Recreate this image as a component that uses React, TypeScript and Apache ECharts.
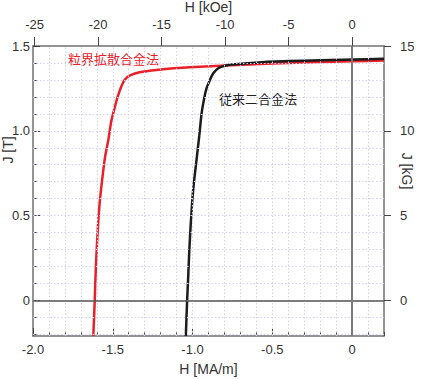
import React, { useEffect, useRef } from "react";
import * as echarts from "echarts";

// Red: 粒界拡散合金法 (H in MA/m, J in T)
const redH = [-1.622, -1.613, -1.609, -1.603, -1.594, -1.584, -1.569, -1.548, -1.527, -1.51, -1.489, -1.469, -1.447, -1.426, -1.395, -1.332, -1.227, -1.017, -0.5, 0, 0.2];
const redJ = [-0.21, 0.0, 0.122, 0.259, 0.416, 0.554, 0.691, 0.848, 0.95, 1.054, 1.133, 1.201, 1.26, 1.3, 1.325, 1.345, 1.359, 1.375, 1.397, 1.41, 1.414];
// Black: 従来二合金法
const blackH = [-1.042, -1.034, -1.028, -1.021, -1.011, -0.996, -0.975, -0.958, -0.943, -0.927, -0.912, -0.891, -0.87, -0.839, -0.797, -0.734, -0.482, 0, 0.2];
const blackJ = [-0.21, 0.0, 0.122, 0.279, 0.456, 0.652, 0.829, 0.97, 1.104, 1.192, 1.251, 1.3, 1.339, 1.369, 1.384, 1.392, 1.408, 1.42, 1.425];

const hMinorTicks = [-2.0, -1.9, -1.8, -1.7, -1.6, -1.5, -1.4, -1.3, -1.2, -1.1, -1.0, -0.9, -0.8, -0.7, -0.6, -0.5, -0.4, -0.3, -0.2, -0.1, 0, 0.1, 0.2];
const hMajorTicks = [-2.0, -1.5, -1.0, -0.5, 0];
const kOeTicks = [-25, -20, -15, -10, -5, 0];
const jMinorTicks = [-0.2, -0.1, 0, 0.1, 0.2, 0.3, 0.4, 0.5, 0.6, 0.7, 0.8, 0.9, 1.0, 1.1, 1.2, 1.3, 1.4, 1.5];
const jMajorTicks = [0, 0.5, 1.0, 1.5];
const kGTicks = [0, 5, 10, 15];

const H_MIN = -2.0;
const H_MAX = 0.2;
const J_MIN = -0.21;
const J_MAX = 1.5;
const KOE_PER_MAM = 1 / 0.0795775;

const FONT = "'Liberation Sans', Arial, sans-serif";
const CJK = "'Noto Sans CJK JP', sans-serif";
const LABEL_COLOR = "#333";
const AXIS_COLOR = "#707070";
const GRID_COLOR = "#d2d2f0";

const fmt1 = (v: number) => (Math.abs(v) < 1e-9 ? "0" : v.toFixed(1));

export default function App() {
  const ref = useRef<HTMLDivElement>(null);
  useEffect(() => {
    if (!ref.current) return;
    const chart = echarts.init(ref.current, undefined, { renderer: "svg" });
    const red = redH.map((h, i) => [h, redJ[i]]);
    const black = blackH.map((h, i) => [h, blackJ[i]]);
    const gridStyle = { color: GRID_COLOR, width: 1, type: [1.5, 2] as any };
    const gridLines = [
      ...hMinorTicks.filter((v) => v > H_MIN + 1e-9 && v < H_MAX - 1e-9).map((v) => ({ xAxis: v, lineStyle: gridStyle })),
      ...jMinorTicks.filter((v) => v > J_MIN + 1e-9 && v < J_MAX - 1e-9).map((v) => ({ yAxis: v, lineStyle: gridStyle })),
    ];
    const baseAxis = {
      type: "value" as const,
      axisLine: { onZero: false, lineStyle: { color: AXIS_COLOR, width: 1.5 } },
      splitLine: { show: false },
    };
    chart.setOption({
      animation: false,
      backgroundColor: "#fff",
      grid: { left: 33, right: 37, top: 46, bottom: 43, containLabel: false, outerBoundsMode: "none" },
      xAxis: [
        {
          ...baseAxis,
          position: "bottom",
          min: H_MIN,
          max: H_MAX,
          name: "H [MA/m]",
          nameLocation: "middle",
          nameGap: 26,
          nameTextStyle: { fontFamily: FONT, fontSize: 14, color: LABEL_COLOR },
          axisTick: { inside: true, length: 4, customValues: hMinorTicks, lineStyle: { color: "#444" } },
          axisLabel: {
            customValues: hMajorTicks,
            formatter: fmt1,
            fontFamily: FONT,
            fontSize: 13,
            color: LABEL_COLOR,
            margin: 7,
          },
        },
        {
          ...baseAxis,
          position: "bottom",
          min: H_MIN,
          max: H_MAX,
          axisLine: { show: false, onZero: false },
          axisTick: { inside: true, length: 8, customValues: hMajorTicks, lineStyle: { color: "#444" } },
          axisLabel: { show: false },
        },
        {
          ...baseAxis,
          position: "top",
          min: H_MIN * KOE_PER_MAM,
          max: H_MAX * KOE_PER_MAM,
          name: "H [kOe]",
          nameLocation: "middle",
          nameGap: 32,
          nameMoveOverlap: false,
          nameTextStyle: { fontFamily: FONT, fontSize: 14, color: LABEL_COLOR },
          axisTick: { inside: false, length: 9, customValues: kOeTicks, lineStyle: { color: "#444" } },
          axisLabel: {
            customValues: kOeTicks,
            fontFamily: FONT,
            fontSize: 13,
            color: LABEL_COLOR,
            margin: 15,
          },
        },
      ],
      yAxis: [
        {
          ...baseAxis,
          position: "left",
          min: J_MIN,
          max: J_MAX,
          axisTick: { inside: true, length: 4, customValues: jMinorTicks, lineStyle: { color: "#444" } },
          axisLabel: {
            customValues: jMajorTicks,
            formatter: fmt1,
            fontFamily: FONT,
            fontSize: 13,
            color: LABEL_COLOR,
            margin: 3,
          },
        },
        {
          ...baseAxis,
          position: "left",
          min: J_MIN,
          max: J_MAX,
          axisLine: { show: false, onZero: false },
          axisTick: { inside: true, length: 7, customValues: jMajorTicks, lineStyle: { color: "#444" } },
          axisLabel: { show: false },
        },
        {
          ...baseAxis,
          position: "right",
          min: J_MIN * 10,
          max: J_MAX * 10,
          axisTick: { inside: false, length: 7, customValues: kGTicks, lineStyle: { color: "#444" } },
          axisLabel: {
            customValues: kGTicks,
            fontFamily: FONT,
            fontSize: 13,
            color: LABEL_COLOR,
            margin: 16,
          },
        },
      ],
      graphic: [
        {
          type: "text",
          x: 8,
          y: 150,
          rotation: Math.PI / 2,
          style: { text: "J [T]", fontFamily: FONT, fontSize: 14, fill: LABEL_COLOR, align: "center", verticalAlign: "middle" },
        },
        {
          type: "text",
          x: 407,
          y: 171,
          rotation: -Math.PI / 2,
          style: { text: "J [kG]", fontFamily: FONT, fontSize: 14, fill: LABEL_COLOR, align: "center", verticalAlign: "middle" },
        },
        {
          type: "text",
          x: 68,
          y: 58,
          style: { text: "粒界拡散合金法", fontFamily: CJK, fontSize: 13, fill: "#e8202a", align: "left", verticalAlign: "middle" },
        },
        {
          type: "text",
          x: 219,
          y: 98,
          style: { text: "従来二合金法", fontFamily: CJK, fontSize: 13, fill: "#222", align: "left", verticalAlign: "middle" },
        },
      ],
      series: [
        {
          type: "line",
          xAxisIndex: 0,
          yAxisIndex: 0,
          data: [],
          z: 0,
          markLine: {
            silent: true,
            symbol: "none",
            label: { show: false },
            data: gridLines,
          },
        },
        {
          type: "line",
          xAxisIndex: 0,
          yAxisIndex: 0,
          data: [],
          z: 1,
          markLine: {
            silent: true,
            symbol: "none",
            label: { show: false },
            data: [
              { yAxis: 0, lineStyle: { color: "#555", width: 1.5, type: "solid" } },
              { xAxis: 0, lineStyle: { color: "#7a7a7a", width: 2, type: "solid" } },
            ],
          },
        },
        {
          name: "粒界拡散合金法",
          type: "line",
          xAxisIndex: 0,
          yAxisIndex: 0,
          data: red,
          showSymbol: false,
          smooth: 0.25,
          clip: true,
          z: 3,
          lineStyle: { color: "#e8202a", width: 2.5 },
        },
        {
          name: "従来二合金法",
          type: "line",
          xAxisIndex: 0,
          yAxisIndex: 0,
          data: black,
          showSymbol: false,
          smooth: 0.25,
          clip: true,
          z: 4,
          lineStyle: { color: "#1c1c1c", width: 2.5 },
        },
      ],
    });
    return () => chart.dispose();
  }, []);
  return <div ref={ref} style={{ position: "fixed", left: 0, top: 0, width: 421, height: 379 }} />;
}
